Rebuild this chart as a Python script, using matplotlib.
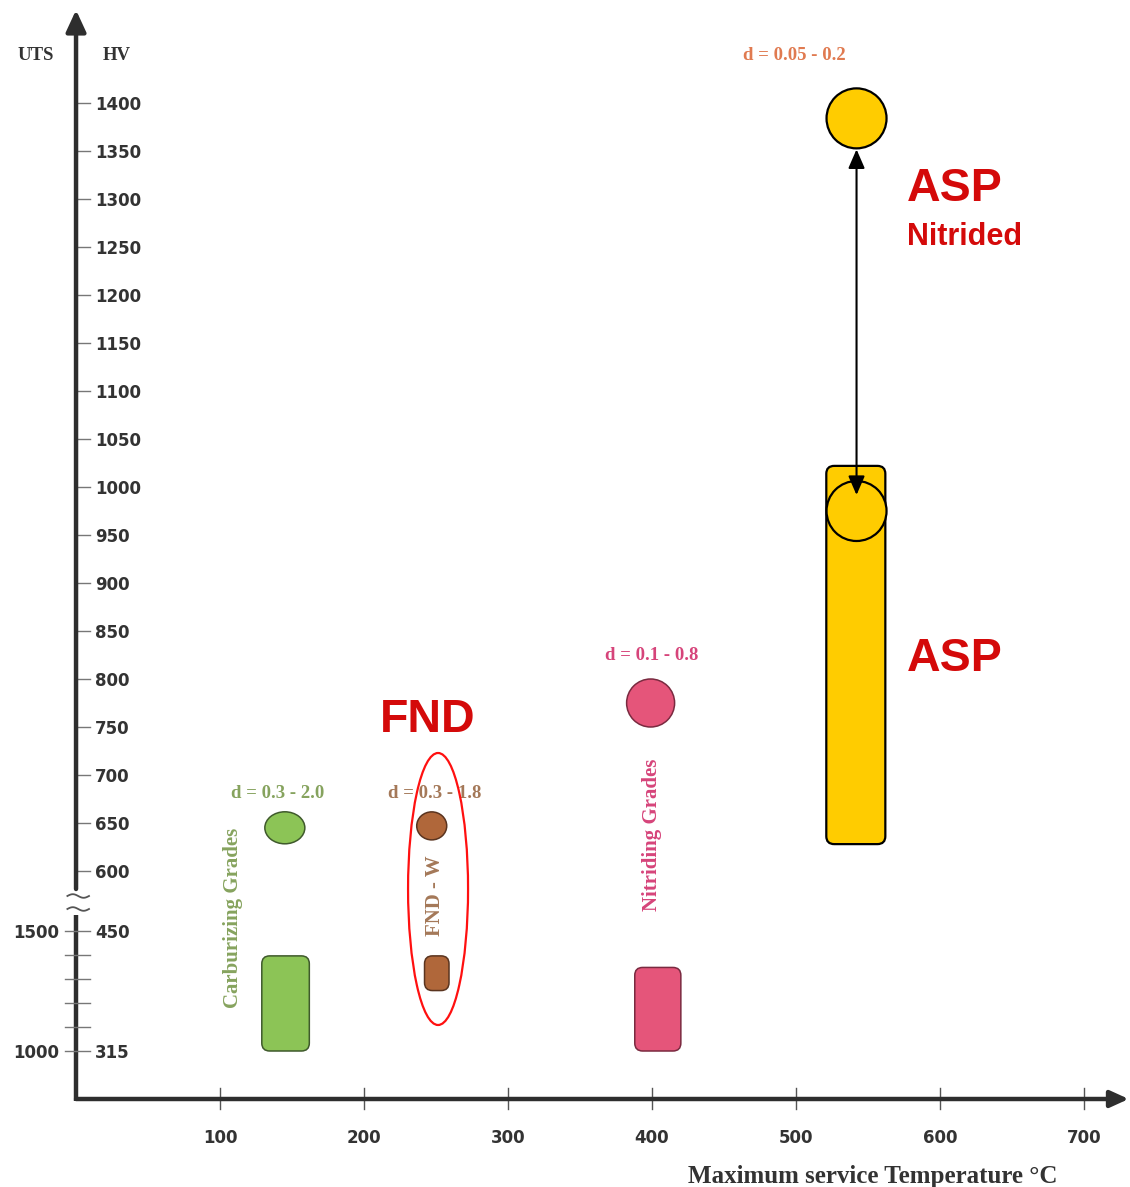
import numpy as np
import matplotlib.pyplot as plt
from matplotlib.patches import Ellipse, FancyBboxPatch

# values
grades = ['Carburizing Grades', 'FND - W', 'Nitriding Grades', 'ASP']
circle_temp = [145, 247, 399, 542]
circle_hv = [645, 647, 775, 975]
rect_temp_lo = [129, 242, 388, 521]
rect_temp_hi = [162, 259, 420, 562]
rect_hv_lo = [315, 383, 315, 628]
rect_hv_hi = [422, 422, 409, 1022]
depths = ['d = 0.3 - 2.0', 'd = 0.3 - 1.8', 'd = 0.1 - 0.8', 'd = 0.05 - 0.2']
nitrided_temp = 542
nitrided_hv = 1384

hv_ticks_upper = list(range(600, 1401, 50))
hv_ticks_lower = [450, 315]
uts_ticks = [1500, 1000]
uts_minor = [1100, 1200, 1300, 1400]
temp_ticks = [100, 200, 300, 400, 500, 600, 700]

# colours
fill = ['#8cc456', '#b0673a', '#e5557a', '#ffcc00']
edge = ['#3f5a2c', '#5a341f', '#7a2a40', 'black']
text_col = ['#86a35e', '#a47858', '#d6447a', '#e07a50']
red = '#d40a0a'
axis_col = '#2e2e2e'

SERIF = 'Liberation Serif'
SANS = 'Liberation Sans'


# broken hardness scale -> vertical position
def hv_pos(hv):
    if hv >= 500:
        return 316 + (hv - 600) * 0.96
    return 136 + (hv - 315) * (120 / 135)


def uts_pos(uts):
    return 136 + (uts - 1000) * 0.24


fig = plt.figure(figsize=(11.30, 11.87), dpi=100)
ax = fig.add_axes([0, 0, 1, 1])
ax.set_xlim(-52.8, 731.9)
ax.set_ylim(0, 1187)
ax.axis('off')

# axes
x_axis_y = 88
ax.annotate('', xy=(731, x_axis_y), xytext=(0, x_axis_y),
            arrowprops=dict(arrowstyle='-|>,head_length=1.1,head_width=0.5',
                            lw=3.2, color=axis_col, shrinkA=0, shrinkB=0))
ax.plot([0, 0], [x_axis_y - 1.5, 272], color=axis_col, lw=3.2, solid_capstyle='butt')
ax.annotate('', xy=(0, 1177), xytext=(0, 298),
            arrowprops=dict(arrowstyle='-|>,head_length=1.3,head_width=0.6',
                            lw=3.2, color=axis_col, shrinkA=0, shrinkB=0))

# break marks
wx = np.linspace(-6, 9, 30)
for yb in [291, 278]:
    ax.plot(wx, yb + 1.8 * np.sin((wx + 6) / 15 * 2 * np.pi), color='#555555', lw=1.3)

# x ticks
for t in temp_ticks:
    ax.plot([t, t], [x_axis_y - 10, x_axis_y + 11], color='#555555', lw=1)
    ax.text(t, 49, str(t), ha='center', va='center', fontsize=12,
            fontweight='bold', color='#333333', family='DejaVu Sans')

# hardness ticks
for h in hv_ticks_upper:
    p = hv_pos(h)
    ax.plot([0.5, 9.5], [p, p], color='#777777', lw=1)
    ax.text(13, p - 2, str(h), ha='left', va='center', fontsize=12,
            fontweight='bold', color='#333333', family='DejaVu Sans')
for h in hv_ticks_lower:
    p = hv_pos(h)
    ax.plot([-7.6, 9.5], [p, p], color='#777777', lw=1)
    ax.text(13, p - 2, str(h), ha='left', va='center', fontsize=12,
            fontweight='bold', color='#333333', family='DejaVu Sans')
for u in uts_ticks:
    ax.text(-11.8, uts_pos(u) - 2, str(u), ha='right', va='center', fontsize=12,
            fontweight='bold', color='#333333', family='DejaVu Sans')
for u in uts_minor:
    p = uts_pos(u)
    ax.plot([-7.6, 9.5], [p, p], color='#777777', lw=1)

ax.text(-27.8, 1132, 'UTS', ha='center', va='center', fontsize=13.5,
        fontweight='bold', color='#333333', family=SERIF)
ax.text(28.5, 1132, 'HV', ha='center', va='center', fontsize=13.5,
        fontweight='bold', color='#333333', family=SERIF)
ax.text(553.5, 11, 'Maximum service Temperature °C', ha='center', va='center',
        fontsize=18, fontweight='bold', color='#333333', family=SERIF)

# grade markers
circ_w = [40, 30, 48, 60]
circ_h = [32, 28, 48, 60]
for i in range(4):
    w = rect_temp_hi[i] - rect_temp_lo[i]
    y0 = hv_pos(rect_hv_lo[i])
    h = hv_pos(rect_hv_hi[i]) - y0
    ax.add_patch(FancyBboxPatch((rect_temp_lo[i], y0), w, h,
                                boxstyle='round,pad=0,rounding_size=5.5',
                                mutation_aspect=1.44, fc=fill[i], ec=edge[i],
                                lw=1.6 if i == 3 else 1.1, zorder=2))
    ax.add_patch(Ellipse((circle_temp[i], hv_pos(circle_hv[i])),
                         circ_w[i] / 1.44, circ_h[i], fc=fill[i], ec=edge[i],
                         lw=1.6 if i == 3 else 1.1, zorder=3))

ax.add_patch(Ellipse((nitrided_temp, hv_pos(nitrided_hv)), 60 / 1.44, 60,
                     fc=fill[3], ec='black', lw=1.6, zorder=3))
ax.annotate('', xy=(nitrided_temp, hv_pos(nitrided_hv) - 31),
            xytext=(circle_temp[3], hv_pos(circle_hv[3]) + 16),
            arrowprops=dict(arrowstyle='<|-|>,head_length=1.15,head_width=0.5',
                            lw=1.5, color='black', shrinkA=0, shrinkB=0),
            zorder=4)

# depth labels
depth_xy = [(140, 393), (249, 393), (400, 532), (499, 1132)]
for i in range(4):
    ax.text(depth_xy[i][0], depth_xy[i][1], depths[i], ha='center', va='center',
            fontsize=13.5, fontweight='bold', color=text_col[i], family=SERIF)

# rotated grade names
ax.text(109, 269, grades[0], rotation=90, ha='center', va='center', fontsize=15,
        fontweight='bold', color=text_col[0], family=SERIF)
ax.text(249.3, 291, grades[1], rotation=90, ha='center', va='center', fontsize=15,
        fontweight='bold', color=text_col[1], family=SERIF)
ax.text(400, 352, grades[2], rotation=90, ha='center', va='center', fontsize=15,
        fontweight='bold', color=text_col[2], family=SERIF)

# FND highlight
ax.add_patch(Ellipse((251.4, 298), 60 / 1.44, 272, fc='none', ec='#ff1010',
                     lw=1.6, zorder=4))
ax.text(244, 467, 'FND', ha='center', va='center', fontsize=33.5,
        fontweight='bold', color=red, family=SANS)
ax.text(577, 998, 'ASP', ha='left', va='center', fontsize=33.5,
        fontweight='bold', color=red, family=SANS)
ax.text(577, 950, 'Nitrided', ha='left', va='center', fontsize=22,
        fontweight='bold', color=red, family=SANS)
ax.text(577, 528, 'ASP', ha='left', va='center', fontsize=33.5,
        fontweight='bold', color=red, family=SANS)

fig.savefig('out.png', dpi=100)
